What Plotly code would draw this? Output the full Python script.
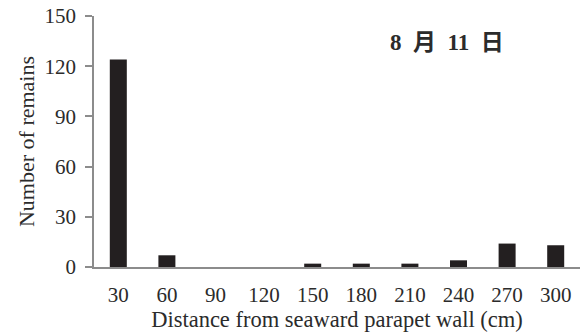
import plotly.graph_objects as go

categories = ["30", "60", "90", "120", "150", "180", "210", "240", "270", "300"]
remains = [124, 7, 0, 0, 2, 2, 2, 4, 14, 13]
y_ticks = [0, 30, 60, 90, 120, 150]
date_label = "8&nbsp;&nbsp;月&nbsp;&nbsp;11&nbsp;&nbsp;日"

font_fam = "Liberation Serif, Times New Roman, serif"

fig = go.Figure()
fig.add_trace(go.Bar(
    x=categories, y=remains,
    marker=dict(color="#231f20", line=dict(width=0)),
    width=0.35,
))

fig.update_layout(
    width=583, height=336,
    margin=dict(l=94, r=3, t=16, b=69),
    paper_bgcolor="white", plot_bgcolor="white",
    showlegend=False,
    font=dict(family=font_fam, size=21, color="#2b2b2b"),
    xaxis=dict(
        type="category",
        showline=True, linecolor="#8c8c8c", linewidth=1.5,
        ticks="", showgrid=False,
        tickfont=dict(size=21),
        ticklabelstandoff=8,
        title=dict(text="Distance from seaward parapet wall (cm)", font=dict(size=22.5), standoff=0),
    ),
    yaxis=dict(
        range=[0, 150], tickvals=y_ticks,
        showline=True, linecolor="#8c8c8c", linewidth=1.5,
        ticks="outside", ticklen=7, tickcolor="#8c8c8c", tickwidth=1.5,
        showgrid=False, zeroline=False,
        tickfont=dict(size=21),
        ticklabelstandoff=5,
        ticklabeloverflow="allow",
        title=dict(text="Number of remains", font=dict(size=22), standoff=4),
    ),
    annotations=[dict(
        x=0.726, y=0.896, xref="paper", yref="paper",
        text="<b>" + date_label + "</b>",
        showarrow=False, xanchor="center", yanchor="middle",
        font=dict(size=23, family="Liberation Serif, Noto Sans CJK JP, serif", color="#2b2b2b"),
    )],
)

fig.write_html("out.html", config={"displayModeBar": False},
               post_script="document.body.style.margin='0';")
